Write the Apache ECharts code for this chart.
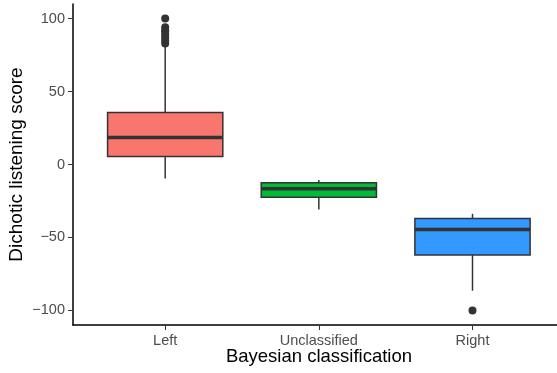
<!DOCTYPE html>
<html lang="en">
<head>
  <meta charset="UTF-8">
  <title>Dichotic listening by Bayesian classification</title>
  <style>
    html, body { margin: 0; padding: 0; background: #fff; }
    #myEcharts { width: 557px; height: 373px; }
  </style>
  <script src="https://cdn.jsdelivr.net/npm/echarts@6/dist/echarts.min.js"></script>
</head>
<body>
  <div id="myEcharts"></div>
  <script>
    // categories and their x positions
    var categories = ['Left', 'Unclassified', 'Right'];
    var positions = [1, 2, 3];
    var fills = ['#F8766D', '#00BA38', '#3399FF'];
    // box stats: [lower whisker, q1, median, q3, upper whisker]
    var boxLeft = [-9.6, 5.5, 18.5, 35.6, 81];
    var boxUnclassified = [-30.8, -22.4, -16.6, -12.5, -10.7];
    var boxRight = [-86.5, -62, -44.5, -37, -33.8];
    // outliers per category
    var outLeft = [100, 94, 92, 91, 89, 87, 85, 83];
    var outUnclassified = [];
    var outRight = [-100];
    var yTicks = [-100, -50, 0, 50, 100];

    var boxes = [boxLeft, boxUnclassified, boxRight];
    var boxData = boxes.map(function (b, i) { return [positions[i]].concat(b); });
    var outData = [];
    [outLeft, outUnclassified, outRight].forEach(function (arr, i) {
      arr.forEach(function (v) { outData.push([positions[i], v]); });
    });

    var myChart = echarts.init(document.getElementById('myEcharts'));
    var halfW = 0.375; // half box width in x units

    option = {
      animation: false,
      grid: { left: 73, right: 0, top: 4, bottom: 48, containLabel: false, outerBoundsMode: 'none' },
      xAxis: {
        type: 'value',
        min: 0.4,
        max: 3.55,
        name: 'Bayesian classification',
        nameLocation: 'middle',
        nameGap: 22,
        nameMoveOverlap: false,
        nameTextStyle: { fontSize: 18.5, color: '#000', fontFamily: 'Liberation Sans', padding: [0, 0, 0, 8] },
        axisLine: { show: true, onZero: false, lineStyle: { color: '#000', width: 1.5 } },
        axisTick: { show: true, customValues: positions, length: 5, lineStyle: { color: '#333' } },
        axisLabel: {
          customValues: positions,
          formatter: function (v) { return categories[positions.indexOf(v)] || ''; },
          color: '#4d4d4d', fontSize: 14.5, margin: 8, fontFamily: 'Liberation Sans'
        },
        splitLine: { show: false }
      },
      yAxis: {
        type: 'value',
        min: -110,
        max: 110,
        name: 'Dichotic listening score',
        nameLocation: 'middle',
        nameGap: 47,
        nameMoveOverlap: false,
        nameRotate: 90,
        nameTextStyle: { fontSize: 19, color: '#000', fontFamily: 'Liberation Sans' },
        axisLine: { show: true, onZero: false, lineStyle: { color: '#000', width: 1.5 } },
        axisTick: { show: true, customValues: yTicks, length: 5, lineStyle: { color: '#333' } },
        axisLabel: {
          customValues: yTicks,
          formatter: function (v) { return String(v).replace('-', '\u2212'); },
          color: '#4d4d4d', fontSize: 14.5, margin: 8, fontFamily: 'Liberation Sans'
        },
        splitLine: { show: false }
      },
      series: [{
        type: 'custom',
        data: boxData,
        renderItem: function (params, api) {
          var x = api.value(0);
          var lo = api.coord([x, api.value(1)]);
          var q1 = api.coord([x, api.value(2)]);
          var md = api.coord([x, api.value(3)]);
          var q3 = api.coord([x, api.value(4)]);
          var hi = api.coord([x, api.value(5)]);
          var xl = api.coord([x - halfW, 0])[0];
          var xr = api.coord([x + halfW, 0])[0];
          var line = { stroke: '#333', lineWidth: 1.5 };
          return {
            type: 'group',
            children: [
              { type: 'line', shape: { x1: hi[0], y1: hi[1], x2: q3[0], y2: q3[1] }, style: line },
              { type: 'line', shape: { x1: q1[0], y1: q1[1], x2: lo[0], y2: lo[1] }, style: line },
              { type: 'rect', shape: { x: xl, y: q3[1], width: xr - xl, height: q1[1] - q3[1] },
                style: { fill: fills[params.dataIndex], stroke: '#333', lineWidth: 1.5 } },
              { type: 'line', shape: { x1: xl, y1: md[1], x2: xr, y2: md[1] },
                style: { stroke: '#333', lineWidth: 3.5 } }
            ]
          };
        }
      }, {
        type: 'scatter',
        data: outData,
        symbolSize: 8,
        itemStyle: { color: '#333', opacity: 1 }
      }]
    };
    myChart.setOption(option);
  </script>
</body>
</html>
